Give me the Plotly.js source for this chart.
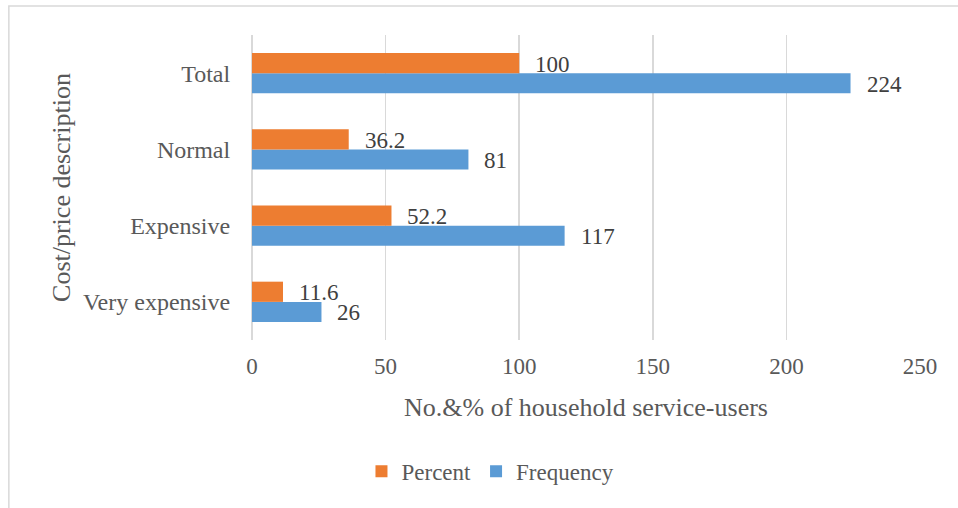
<!DOCTYPE html>
<html>
<head>
<meta charset="utf-8">
<script src="https://cdn.plot.ly/plotly-3.0.1.min.js"></script>
<style>html,body{margin:0;padding:0;background:#fff;}#chart{width:958px;height:508px;}</style>
</head>
<body>
<div id="chart"></div>
<script>
const categories = ["Very expensive", "Expensive", "Normal", "Total"];
const percentValues = [11.6, 52.2, 36.2, 100];
const frequencyValues = [26, 117, 81, 224];
const percentLabels = ["11.6", "52.2", "36.2", "100"];
const frequencyLabels = ["26", "117", "81", "224"];
const xTicks = [0, 50, 100, 150, 200, 250];

const serif = "'Liberation Serif', 'Times New Roman', Times, serif";

const traces = [
  {
    type: "bar", orientation: "h", name: "Frequency",
    y: categories, x: frequencyValues,
    marker: {color: "#5B9BD5"}
  },
  {
    type: "bar", orientation: "h", name: "Percent",
    y: categories, x: percentValues,
    marker: {color: "#ED7D31"}
  }
];

const annotations = [];
categories.forEach((c, i) => {
  annotations.push({x: percentValues[i], y: c, text: percentLabels[i], showarrow: false,
    xanchor: "left", xshift: 14, yshift: 9, font: {family: serif, size: 23, color: "#404040"}});
  annotations.push({x: frequencyValues[i], y: c, text: frequencyLabels[i], showarrow: false,
    xanchor: "left", xshift: 14, yshift: -11, font: {family: serif, size: 23, color: "#404040"}});
});

const layout = {
  width: 958, height: 508,
  margin: {l: 252, r: 38, t: 35, b: 168},
  paper_bgcolor: "#fff", plot_bgcolor: "#fff",
  font: {family: serif, color: "#595959"},
  barmode: "group", bargap: 0.47, bargroupgap: 0,
  showlegend: true,
  legend: {orientation: "h", x: 0.357, xanchor: "center", y: -0.36, yanchor: "top",
           itemwidth: 30, traceorder: "reversed", font: {family: serif, size: 23, color: "#595959"}},
  xaxis: {
    range: [0, 250], tickvals: xTicks, showgrid: true, gridcolor: "#D9D9D9", gridwidth: 1.5,
    zeroline: true, zerolinecolor: "#D9D9D9", zerolinewidth: 1.5, showline: false,
    ticks: "outside", ticklen: 5, tickcolor: "rgba(0,0,0,0)",
    tickfont: {family: serif, size: 23, color: "#595959"},
    title: {text: "No.&amp;% of household service-users", font: {family: serif, size: 26, color: "#595959"}, standoff: 20}
  },
  yaxis: {
    categoryorder: "array", categoryarray: categories,
    showgrid: false, zeroline: false, showline: false,
    ticks: "outside", ticklen: 16, tickcolor: "rgba(0,0,0,0)",
    tickfont: {family: serif, size: 24, color: "#595959"},
    title: {text: "Cost/price description", font: {family: serif, size: 26, color: "#595959"}, standoff: 4}
  },
  annotations: annotations,
  shapes: [{
    type: "rect", xref: "paper", yref: "paper",
    x0: -0.364, x1: 1.2, y0: -0.7, y1: 1.095,
    line: {color: "#D9D9D9", width: 1.5}, fillcolor: "rgba(0,0,0,0)", layer: "below"
  }]
};

Plotly.newPlot("chart", traces, layout, {displayModeBar: false, staticPlot: true});
</script>
</body>
</html>
